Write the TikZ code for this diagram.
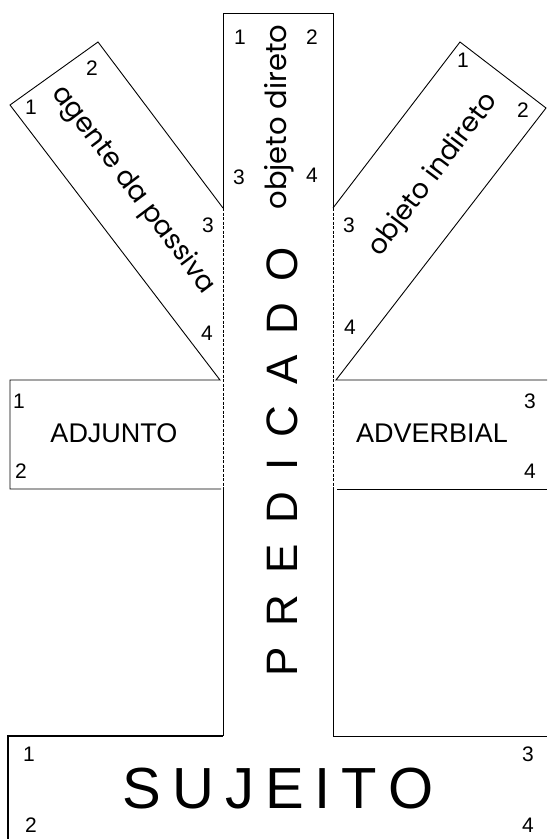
\documentclass[tikz,border=0pt]{standalone}
\usepackage{fontspec}
\setmainfont{Liberation Sans}
\newfontfamily\geofont{Poppins}

\begin{document}
\begin{tikzpicture}[
  x=1pt, y=-1pt,
  % Node Styles
  numlabel/.style={inner sep=0pt, font=\fontsize{21}{21}\selectfont},
  capslabel/.style={inner sep=0pt, font=\fontsize{27}{27}\selectfont},
  slantlabel/.style={inner sep=0pt, font=\geofont\fontsize{27}{27}\selectfont},
  biglabel/.style={inner sep=0pt, anchor=base},
  % Line Styles
  cutline/.style={line width=0.9pt, line join=miter},
  foldline/.style={line width=0.9pt, dash pattern=on 3pt off 1.5pt},
  heavyline/.style={line width=2.4pt},
]
\useasboundingbox (0,0) rectangle (547,839);

% Corners
\coordinate (colTL) at (223,13);
\coordinate (colTR) at (333,13);
\coordinate (colL1) at (223,208);
\coordinate (colR1) at (333,208);
\coordinate (colL3) at (223,489);
\coordinate (colR3) at (333,489);
\coordinate (colL4) at (223,736);
\coordinate (colR4) at (333,736);
\coordinate (agA) at (10,105);
\coordinate (agB) at (98,42);
\coordinate (agD) at (220,380);
\coordinate (oiT) at (460,42);
\coordinate (oiR) at (546,108);
\coordinate (oiD) at (336,380);
\coordinate (adjTL) at (10,380);
\coordinate (adjBL) at (10,489);
\coordinate (adjBR) at (221,489);
\coordinate (advTR) at (547,380);
\coordinate (advBL) at (337,489);
\coordinate (advBR) at (547,489);
\coordinate (sujTL) at (8,736);
\coordinate (sujBL) at (8,839);
\coordinate (sujTR) at (547,736);

% Central strip
\draw[cutline] (colL1) -- (colTL) -- (colTR) -- (colR1);
\draw[foldline] (colL1) -- (colL3);
\draw[foldline] (colR1) -- (colR3);
\draw[cutline] (colL3) -- (colL4);
\draw[cutline] (colR3) -- (colR4);

% Side strips
\draw[cutline] (colL1) -- (agB) -- (agA) -- (agD) -- (adjTL) -- (adjBL) -- (adjBR);
\draw[cutline] (colR1) -- (oiT) -- (oiR) -- (oiD) -- (advTR);
\draw[cutline] (advBL) -- (advBR);

% Sujeito
\draw[cutline] (colR4) -- (sujTR);
\draw[heavyline] (sujBL) -- (sujTL) -- (colL4);

% Texts
\node[slantlabel, rotate=90, anchor=base, font=\geofont\fontsize{29}{29}\selectfont] (objdireto) at (286,117) {objeto direto};
\node[biglabel, rotate=90, font={\fontsize{44}{44}\selectfont\spaceskip=21pt\relax}] (predicado) at (297,462) {P R E D I C A D O};
\node[slantlabel, rotate=-53] (agente) at (133,190) {agente da passiva};
\node[slantlabel, rotate=53] (objindireto) at (434,175) {objeto indireto};
\node[capslabel] (adjunto) at (114,433) {ADJUNTO};
\node[capslabel] (adverbial) at (432,433) {ADVERBIAL};
\node[font={\fontsize{58}{58}\selectfont\spaceskip=11pt\relax}, inner sep=0pt] (sujeito) at (278,789) {S U J E I T O};

% Numbers
\node[numlabel] (od1) at (240,37) {1};
\node[numlabel] (od2) at (312,37) {2};
\node[numlabel] (od3) at (239,177) {3};
\node[numlabel] (od4) at (312,175) {4};
\node[numlabel] (ag1) at (31,107) {1};
\node[numlabel] (ag2) at (92,68) {2};
\node[numlabel] (ag3) at (208,225) {3};
\node[numlabel] (ag4) at (207,333) {4};
\node[numlabel] (oi1) at (463,60) {1};
\node[numlabel] (oi2) at (523,110) {2};
\node[numlabel] (oi3) at (349,225) {3};
\node[numlabel] (oi4) at (350,327) {4};
\node[numlabel] (adj1) at (19,401) {1};
\node[numlabel] (adj2) at (21,471) {2};
\node[numlabel] (adv3) at (530,401) {3};
\node[numlabel] (adv4) at (530,471) {4};
\node[numlabel] (suj1) at (29,754) {1};
\node[numlabel] (suj2) at (31,825) {2};
\node[numlabel] (suj3) at (528,754) {3};
\node[numlabel] (suj4) at (528,825) {4};

\end{tikzpicture}
\end{document}
